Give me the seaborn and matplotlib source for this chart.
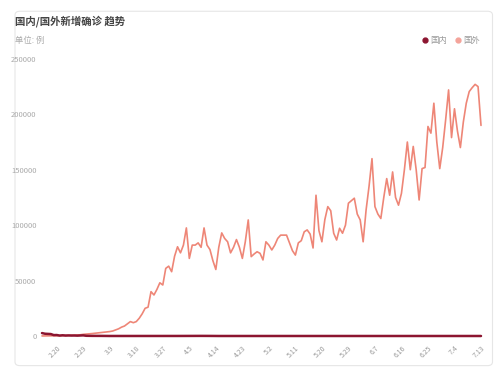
import matplotlib
matplotlib.use("Agg")
import matplotlib.pyplot as plt
import seaborn as sns
import pandas as pd
import numpy as np
from matplotlib.patches import FancyBboxPatch
from matplotlib.lines import Line2D

sns.set_theme(style="white")
plt.rcParams['font.family'] = ['Noto Sans CJK SC', 'DejaVu Sans']

# ---- data ----
# daily dates from 2.15 to 7.13
month_days = [(2, range(15, 30)), (3, range(1, 32)), (4, range(1, 31)),
              (5, range(1, 32)), (6, range(1, 31)), (7, range(1, 14))]
dates = [f"{m}.{d}" for m, ds in month_days for d in ds]

foreign = [50, 60, 80, 100, 150, 200, 250, 300, 400, 500, 600, 800, 900, 1100,
           1500, 1700, 1900, 2200, 2500, 2800, 3200, 3500, 3800, 4000, 4500,
           5500, 6500, 8000, 9000, 11000, 13000, 12000, 13000, 16000, 20000,
           25000, 26000, 40000, 37000, 42000, 48000, 46000, 61000, 63000, 58000,
           72000, 80500, 75000, 82000, 97500, 70000, 82000, 82000, 84000, 80000,
           97500, 82000, 78000, 68000, 60000, 80000, 93000, 88000, 85000, 75000,
           80000, 87000, 80000, 70000, 85000, 104700, 71600, 74000, 76000, 74600,
           68600, 85000, 82000, 77600, 82000, 88000, 91000, 91000, 91000, 84000,
           77000, 73000, 84000, 86000, 94000, 95700, 92000, 79400, 127000, 95000,
           85000, 105000, 116700, 113000, 92700, 86600, 97200, 92700, 100000,
           119800, 122000, 124300, 110000, 104700, 85000, 113700, 135000, 160000,
           116700, 110000, 106000, 125000, 142000, 127000, 148000, 125000, 118000,
           128700, 150000, 175000, 150000, 171000, 150000, 122700, 151000, 152000,
           189000, 183000, 210000, 175000, 151000, 170000, 195000, 222000, 179000,
           205000, 185000, 170000, 193000, 210000, 220500, 224000, 227000, 225000,
           190000]

domestic = [2641, 2048, 1886, 1749, 820, 889, 397, 648, 409, 508, 406, 433, 327,
            427, 573, 202, 125, 119, 139, 143, 99, 44, 40, 19, 24, 15, 20, 11,
            20, 21, 13, 34, 39, 41, 46, 80, 63, 102, 121, 54, 67, 55, 45, 54, 48,
            36, 35, 31, 19, 30, 39, 32, 62, 46, 99, 108, 89, 70, 27, 16, 11, 12,
            16, 10, 11, 6, 12, 6, 2, 4, 12, 4, 3, 2, 1, 1, 2, 1, 3, 1, 14, 1, 2,
            17, 7, 4, 6, 3, 8, 5, 3, 7, 2, 3, 2, 4, 11, 3, 8, 4, 0, 4, 3, 1, 1,
            2, 16, 2, 3, 4, 8, 3, 6, 3, 4, 5, 39, 57, 49, 36, 28, 25, 44, 32, 21,
            26, 22, 13, 11, 19, 12, 13, 3, 21, 3, 5, 3, 8, 3, 4, 1, 5, 7, 8, 5,
            6, 4, 5, 1, 2]

tick_labels = ["2.20", "2.29", "3.9", "3.18", "3.27", "4.5", "4.14", "4.23",
               "5.2", "5.11", "5.20", "5.29", "6.7", "6.16", "6.25", "7.4", "7.13"]
y_ticks = [0, 50000, 100000, 150000, 200000, 250000]

n = min(len(dates), len(foreign), len(domestic))
df = pd.DataFrame({"idx": np.arange(n), "date": dates[:n],
                   "国外": foreign[:n], "国内": domestic[:n]})

c_dom = "#8c1530"
c_for = "#ee8677"

fig = plt.figure(figsize=(5, 3.75), dpi=100)
fig.patch.set_facecolor("white")

# card frame
card = FancyBboxPatch((0.03, 0.025), 0.955, 0.945, boxstyle="round,pad=0,rounding_size=0.01",
                      transform=fig.transFigure, facecolor="none",
                      edgecolor="#e6e6e6", linewidth=0.8, zorder=-5)
fig.patches.append(card)

ax = fig.add_axes([0.084, 0.104, 0.878, 0.739])
ax.set_facecolor("none")
ax.set_zorder(2)

sns.lineplot(data=df, x="idx", y="国外", ax=ax, color=c_for, linewidth=1.2,
             legend=False)
sns.lineplot(data=df, x="idx", y="国内", ax=ax, color=c_dom, linewidth=1.8,
             legend=False)
for ln in ax.lines:
    ln.set_clip_on(False)

ax.set_xlim(0, n - 1)
ax.set_ylim(0, 250000)
ax.set_xlabel("")
ax.set_ylabel("")
for s in ax.spines.values():
    s.set_visible(False)

tick_pos = [dates.index(t) for t in tick_labels if t in dates]
ax.set_xticks(tick_pos)
ax.set_xticklabels([t for t in tick_labels if t in dates], rotation=45,
                   ha="right", rotation_mode="anchor", fontsize=5, color="#999999")
ax.set_yticks(y_ticks)
ax.set_yticklabels([str(v) for v in y_ticks], fontsize=5.5, color="#aaaaaa")
ax.tick_params(axis="both", length=0, pad=4)
ax.tick_params(axis="x", pad=6)

fig.text(0.03, 0.945, "国内/国外新增确诊 趋势", fontsize=7.5, fontweight="bold",
         color="#444444", va="center")
fig.text(0.03, 0.893, "单位: 例", fontsize=6, color="#aaaaaa", va="center")

handles = [Line2D([0], [0], marker="o", linestyle="", markersize=3.5,
                  markerfacecolor=c_dom, markeredgecolor=c_dom),
           Line2D([0], [0], marker="o", linestyle="", markersize=3.5,
                  markerfacecolor="#f4a39a", markeredgecolor="#f4a39a")]
leg = fig.legend(handles, ["国内", "国外"], loc="center right",
                 bbox_to_anchor=(0.975, 0.893), ncol=2, frameon=False,
                 fontsize=6, handletextpad=0.2, columnspacing=1.0,
                 handlelength=0.8)
for t in leg.get_texts():
    t.set_color("#999999")

fig.savefig("out.png", dpi=100, facecolor="white")
